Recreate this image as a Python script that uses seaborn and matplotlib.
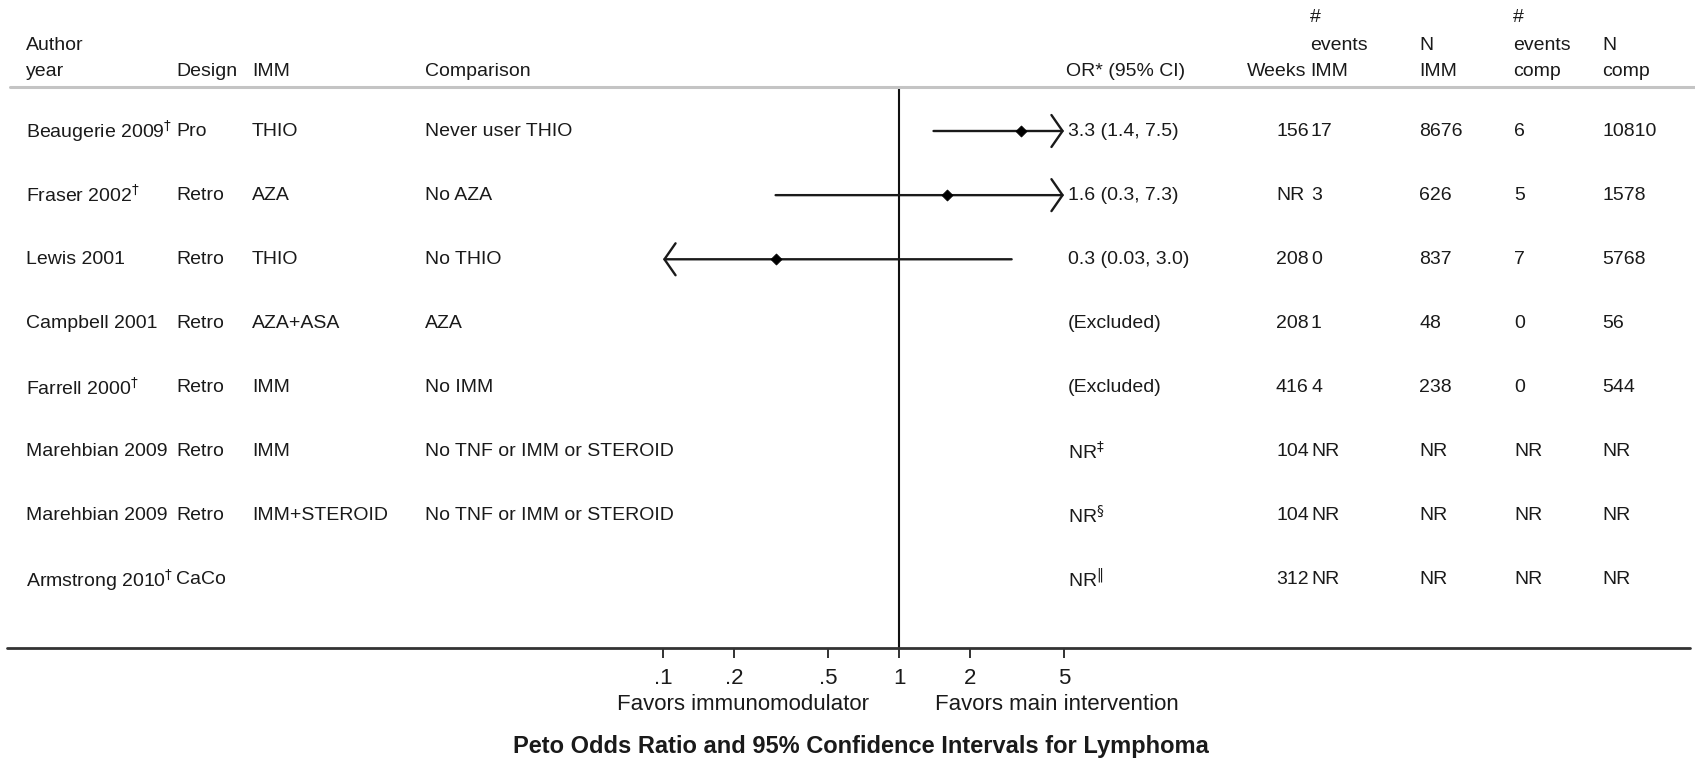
import numpy as np
import matplotlib
matplotlib.use("Agg")
import matplotlib.pyplot as plt
from matplotlib.lines import Line2D
from matplotlib.transforms import blended_transform_factory
import seaborn as sns

# ---- study table -------------------------------------------------------
authors = ["Beaugerie 2009$^{\\dagger}$", "Fraser 2002$^{\\dagger}$", "Lewis 2001",
           "Campbell 2001", "Farrell 2000$^{\\dagger}$", "Marehbian 2009",
           "Marehbian 2009", "Armstrong 2010$^{\\dagger}$"]
designs = ["Pro", "Retro", "Retro", "Retro", "Retro", "Retro", "Retro", "CaCo"]
imm_arm = ["THIO", "AZA", "THIO", "AZA+ASA", "IMM", "IMM", "IMM+STEROID", ""]
comparisons = ["Never user THIO", "No AZA", "No THIO", "AZA", "No IMM",
               "No TNF or IMM or STEROID", "No TNF or IMM or STEROID", ""]

# Peto odds ratios with 95% CI (NaN where not estimable)
or_est = [3.3, 1.6, 0.3, np.nan, np.nan, np.nan, np.nan, np.nan]
ci_low = [1.4, 0.3, 0.03, np.nan, np.nan, np.nan, np.nan, np.nan]
ci_high = [7.5, 7.3, 3.0, np.nan, np.nan, np.nan, np.nan, np.nan]
or_notes = ["", "", "", "(Excluded)", "(Excluded)",
            "NR$^{\\ddagger}$", "NR$^{\\S}$", "NR$^{\\Vert}$"]

weeks = ["156", "NR", "208", "208", "416", "104", "104", "312"]
events_imm = ["17", "3", "0", "1", "4", "NR", "NR", "NR"]
n_imm = ["8676", "626", "837", "48", "238", "NR", "NR", "NR"]
events_comp = ["6", "5", "7", "0", "0", "NR", "NR", "NR"]
n_comp = ["10810", "1578", "5768", "56", "544", "NR", "NR", "NR"]

tick_values = [0.1, 0.2, 0.5, 1, 2, 5]
tick_labels = [".1", ".2", ".5", "1", "2", "5"]

# ---- styling -----------------------------------------------------------
sns.set_theme(style="white")
plt.rcParams["font.family"] = ["Liberation Sans", "DejaVu Sans"]
plt.rcParams["mathtext.fontset"] = "dejavusans"
FS = 14          # table text
FS_AX = 16       # axis labels
FS_TITLE = 17
TXT = "#1a1a1a"

W, H = 1695, 765
fig = plt.figure(figsize=(W / 100, H / 100), dpi=100)

def fx(px):
    return px / W

def fy(py):
    return 1 - py / H

# forest panel: x from 0.1 to 5 on a log scale
x_lo, x_hi = 0.1, 5.0
ax_left, ax_right = 663, 1064
ax_top, ax_bottom = 86.5, 647.5
ax = fig.add_axes([fx(ax_left), fy(ax_bottom), fx(ax_right - ax_left),
                   (ax_bottom - ax_top) / H])
ax.set_xscale("log")
ax.set_xlim(x_lo, x_hi)
n = len(authors)
rows = np.arange(1, n + 1)
row_px0, row_step = 131, 64.14
ax.set_ylim(n + (ax_bottom - (row_px0 + (n - 1) * row_step)) / row_step,
            1 - (row_px0 - ax_top) / row_step)
for s in ax.spines.values():
    s.set_visible(False)
ax.patch.set_alpha(0)

ax.set_xticks(tick_values)
ax.set_xticklabels(tick_labels)
ax.xaxis.set_minor_locator(matplotlib.ticker.NullLocator())
ax.tick_params(axis="x", bottom=True, direction="out", length=7.5, width=1.3,
               color="#222222", labelsize=FS_AX, labelcolor=TXT, pad=7)
ax.set_yticks([])

# null line
ax.axvline(1, color="#111111", lw=1.5, zorder=1)

# confidence intervals, with open arrowheads where they run past the panel
for r, est, lo, hi in zip(rows, or_est, ci_low, ci_high):
    if np.isnan(est):
        continue
    lo_c, hi_c = max(lo, x_lo), min(hi, x_hi)
    style = {(False, False): "-", (False, True): "->",
             (True, False): "<-", (True, True): "<->"}[(lo < x_lo, hi > x_hi)]
    if style != "-":
        style += ",head_length=0.8,head_width=1.15"
    ax.annotate("", xy=(hi_c, r), xytext=(lo_c, r),
                arrowprops=dict(arrowstyle=style, lw=1.7, color="#1a1a1a",
                                shrinkA=0, shrinkB=0, mutation_scale=10),
                annotation_clip=False)

sns.scatterplot(x=or_est, y=rows, marker="D", s=32, color="black",
                edgecolor="black", linewidth=0.5, ax=ax, zorder=3, legend=False)

# ---- table text ---------------------------------------------------------
tr = blended_transform_factory(fig.transFigure, ax.transData)

def fmt(v):
    return f"{v:.2f}" if v < 0.1 else f"{v:.1f}"

or_text = [f"{fmt(e)} ({fmt(l)}, {fmt(h)})" if not np.isnan(e) else note
           for e, l, h, note in zip(or_est, ci_low, ci_high, or_notes)]

columns = [(26, authors), (176, designs), (252, imm_arm), (425, comparisons),
           (1068, or_text), (1276, weeks), (1311, events_imm), (1419, n_imm),
           (1514, events_comp), (1602, n_comp)]
for px, values in columns:
    for r, v in zip(rows, values):
        if v:
            ax.text(fx(px), r, v, transform=tr, ha="left", va="center",
                    fontsize=FS, color=TXT, clip_on=False)

# header block: (x, anchor, lines from top to bottom)
headers = [(26, "left", ["Author", "year"]), (176, "left", ["Design"]),
           (252, "left", ["IMM"]), (425, "left", ["Comparison"]),
           (1066, "left", ["OR* (95% CI)"]), (1306, "right", ["Weeks"]),
           (1310, "left", ["#", "events", "IMM"]), (1419, "left", ["N", "IMM"]),
           (1513, "left", ["#", "events", "comp"]), (1602, "left", ["N", "comp"])]
header_y = [72, 45, 18]
for px, anchor, lines in headers:
    for k, line in enumerate(reversed(lines)):
        fig.text(fx(px), fy(header_y[k]), line, ha=anchor, va="center",
                 fontsize=FS, color=TXT)

# rule under header and the long axis line
fig.add_artist(Line2D([fx(10), fx(1695)], [fy(86.5), fy(86.5)],
                      color="#c4c4c4", lw=2.2))
fig.add_artist(Line2D([fx(7), fx(1690)], [fy(647.5), fy(647.5)],
                      color="#333333", lw=2.0))

# direction labels and title
fig.text(fx(869), fy(705), "Favors immunomodulator", ha="right", va="center",
         fontsize=FS_AX, color=TXT)
fig.text(fx(935), fy(705), "Favors main intervention", ha="left", va="center",
         fontsize=FS_AX, color=TXT)
fig.text(fx(861), fy(747), "Peto Odds Ratio and 95% Confidence Intervals for Lymphoma",
         ha="center", va="center", fontsize=FS_TITLE, fontweight="bold", color=TXT)

fig.savefig("out.png", dpi=100, facecolor="white")
